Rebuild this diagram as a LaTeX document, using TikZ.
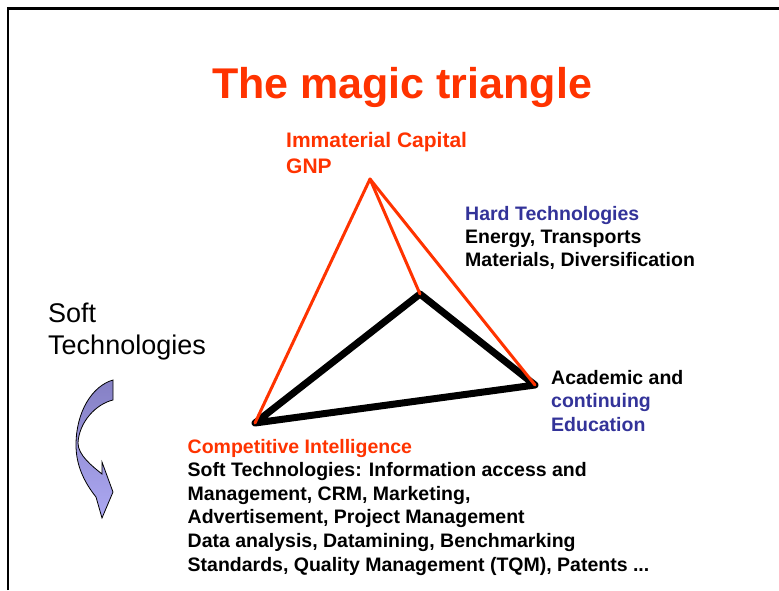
\documentclass[tikz,border=0pt]{standalone}
\usepackage{fontspec}
\setmainfont{Liberation Sans}
\usetikzlibrary{calc}

\definecolor{magicred}{HTML}{FF3300}
\definecolor{magicblue}{HTML}{333399}
\definecolor{arrowtop}{HTML}{8580C4}
\definecolor{arrowbot}{HTML}{ACA8F2}

\tikzset{
  lbl/.style={anchor=base west, inner sep=0pt, align=left,
    font=\bfseries\fontsize{19.5}{23.6}\selectfont},
  redline/.style={line width=3pt, color=magicred, line cap=round},
  blackline/.style={line width=7pt, line cap=round, line join=round},
}

\begin{document}
\begin{tikzpicture}[x=1pt,y=-1pt]
		%%%%% START %%%%%
		\useasboundingbox (0,0) rectangle (779,590);
		\fill[white] (0,0) rectangle (779,590);
		\draw[line width=2.5pt] (8,590) -- (8,8.5) -- (779,8.5);
		
		\node[anchor=base, inner sep=0pt, color=magicred, font=\bfseries\fontsize{43}{50}\selectfont] (title) at (402,98) {The magic triangle};
		
		% corners of the triangle
		\coordinate (apex) at (370,179);
		\coordinate (inner) at (420,294);
		\coordinate (rightc) at (535,385);
		\coordinate (leftc) at (255,423);
		
		\draw[blackline] (leftc) -- (inner) -- (rightc) -- cycle;
		\draw[redline] (apex) -- (leftc);
		\draw[redline] (apex) -- (inner);
		\draw[redline] (apex) -- (rightc);
		
		% labels (base = last line)
		\node[lbl, color=magicred, font=\bfseries\fontsize{21}{26}\selectfont] (capital) at (286,173) {Immaterial Capital\\GNP};
		\node[lbl, font=\bfseries\fontsize{19.5}{23}\selectfont] (hard) at (465,266) {\textcolor{magicblue}{Hard Technologies}\\Energy, Transports\\Materials, Diversification};
		\node[lbl] (academic) at (551,431.5) {Academic and\\\textcolor{magicblue}{continuing}\\\textcolor{magicblue}{Education}};
		\node[lbl] (competitive) at (187.5,571) {\textcolor{magicred}{Competitive Intelligence}\\Soft Technologies: Information access and\\Management, CRM, Marketing,\\Advertisement, Project Management\\Data analysis, Datamining, Benchmarking\\Standards, Quality Management (TQM), Patents ...};
		
		\node[lbl, font=\fontsize{27}{32}\selectfont] (soft) at (48,354) {Soft\\Technologies};
		
		% curved arrow
		\draw[line width=0.8pt, top color=arrowtop, bottom color=arrowbot]
			(113,380) -- (113,400)
			.. controls (96,404) and (79,422) .. (78,443)
			.. controls (78,455) and (92,466) .. (102,474)
			-- (102,462) -- (113,492) -- (102,518) -- (96,497)
			.. controls (84,482) and (76,465) .. (76,445)
			.. controls (76,412) and (92,386) .. cycle;
		%%%%% END %%%%%
	\end{tikzpicture}
\end{document}
